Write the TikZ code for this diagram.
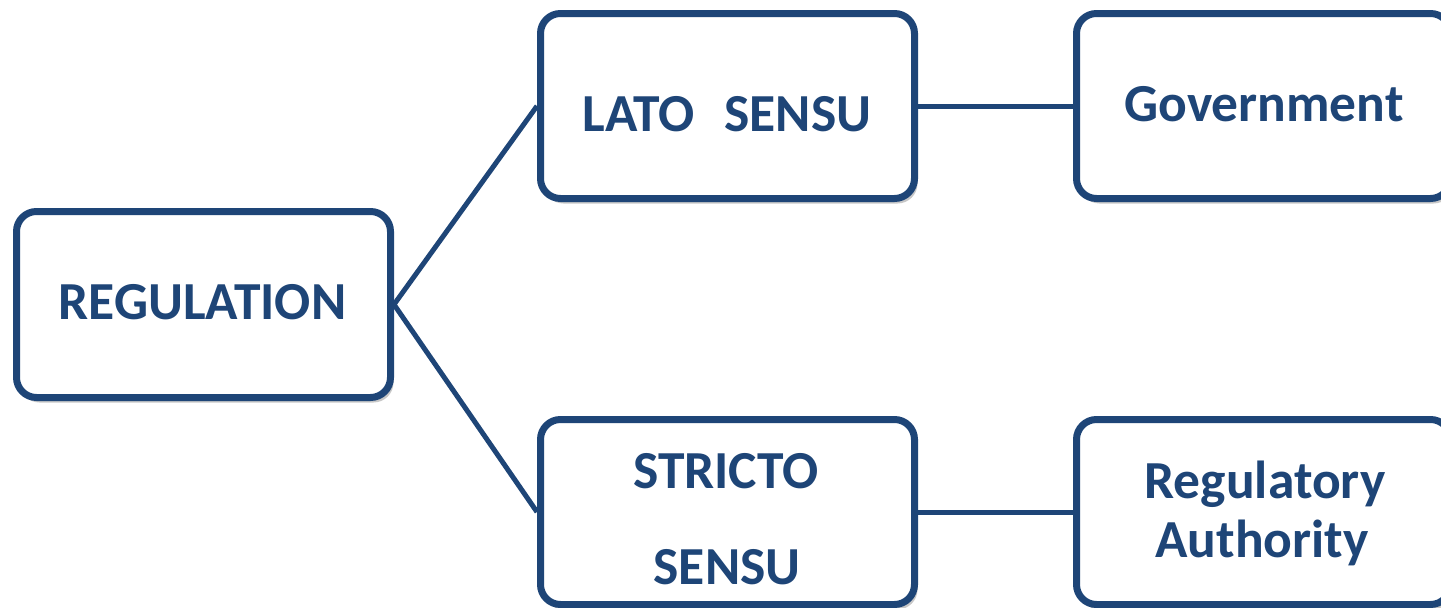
\documentclass[tikz,border=0pt]{standalone}
\usepackage{fontspec}
\setmainfont{Carlito}
\usetikzlibrary{shadows}
\definecolor{navy}{HTML}{1E4577}
\tikzset{
  box/.style={draw=navy, line width=7pt, rounded corners=20pt, fill=white,
    minimum width=374pt, minimum height=185pt, inner sep=0pt,
    drop shadow={shadow xshift=3pt, shadow yshift=-5pt, opacity=0.22, fill=black}},
  lbl/.style={text=navy, inner sep=0pt, anchor=base, font=\fontsize{53.5}{64}\selectfont\bfseries},
  link/.style={draw=navy, line width=5pt}
}
\begin{document}
\begin{tikzpicture}[x=1pt,y=-1pt]
\useasboundingbox (0,0) rectangle (1441,608);
\node[box, minimum height=186pt] (reg) at (203.5,304.5) {};
\node[box] (lato) at (727.5,106) {};
\node[box] (gov) at (1263.5,106) {};
\node[box] (stricto) at (727.5,512) {};
\node[box] (auth) at (1263.5,512) {};
\draw[link] (reg.east) -- (lato.west);
\draw[link] (reg.east) -- (stricto.west);
\draw[link] (lato.east) -- (gov.west);
\draw[link] (stricto.east) -- (auth.west);
\node[lbl] (tReg) at (202.5,319) {REGULATION};
\node[lbl] (tLato) at (727,131) {LATO\hspace{30pt}SENSU};
\node[lbl] (tGov) at (1264,121) {Government};
\node[lbl] (tStr1) at (726,488) {STRICTO};
\node[lbl] (tStr2) at (727,584) {SENSU};
\node[lbl] (tAuth1) at (1265,498) {Regulatory};
\node[lbl] (tAuth2) at (1262,557) {Authority};
\end{tikzpicture}
\end{document}
